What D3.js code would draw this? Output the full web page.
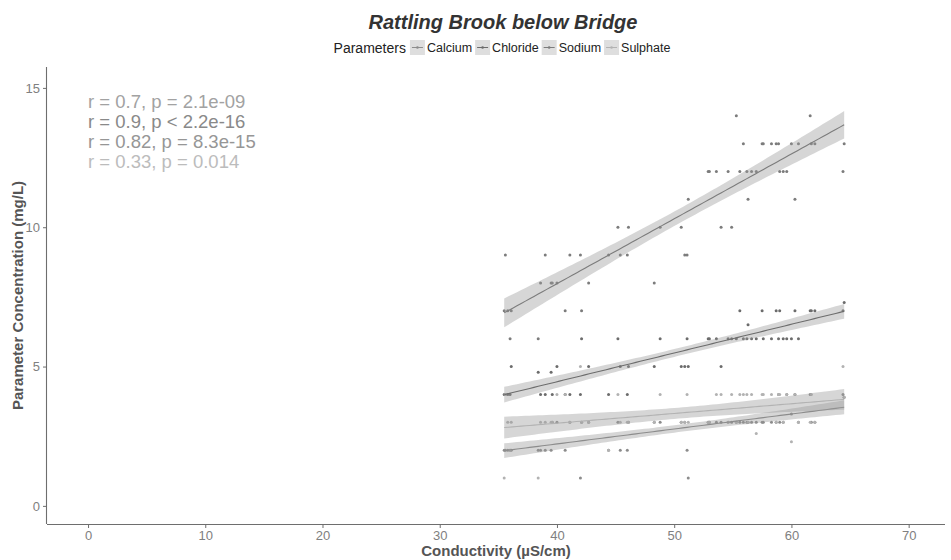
<!DOCTYPE html>
<html>
<head>
<meta charset="utf-8">
<script src="https://cdn.jsdelivr.net/npm/d3@7"></script>
<style>
  body { margin: 0; background: #fff; }
  svg { display: block; }
  text { font-family: "Liberation Sans", Arial, Helvetica, sans-serif; }
</style>
</head>
<body>
<svg id="chart" width="951" height="560"></svg>
<script>
// ---- Data: one conductivity reading per sample, one value per parameter ----
const conductivity = [35.5, 35.6, 35.8, 36.0, 36.1, 38.4, 38.6, 39.0, 39.5, 39.6,
  40.0, 40.7, 41.1, 42.0, 42.1, 42.7, 44.4, 45.2, 45.4, 46.0,
  46.1, 48.3, 48.8, 50.6, 50.9, 51.1, 51.2, 52.9, 53.0, 53.6,
  54.0, 54.6, 54.9, 55.3, 55.6, 55.9, 56.2, 56.3, 56.6, 57.0,
  57.5, 57.6, 58.3, 58.7, 58.9, 59.0, 59.3, 59.6, 60.0, 60.3,
  60.6, 61.6, 61.7, 62.0, 64.4, 64.5];

const calcium = [2, 2, 2, 2, 2, 2, 2, 2, 2, 3,
  3, 2, 3, 1, 3, 3, 2, 3, 2, 2,
  3, 3, 3, 3, 3, 2, 1, 3, 3, 3,
  3, 3, 3, 3, 3, 3, 3, 3, 3, 3,
  3, 3, 3, 3, 4, 3, 3, 4, 3.3, 4,
  3, 4, 3, 3, 4, 3.9];

const chloride = [4, 4, 4, 4, 5, 4.8, 4, 4, 4.8, 4,
  5, 4, 4, 4, 6, 5, 4, 6, 5, 4,
  5, 5, 6, 5, 5, 6, 5, 6, 6, 6,
  5, 6, 6, 6, 7, 6, 6, 6.5, 6, 6,
  7, 6, 6, 7, 6, 7, 6, 6, 6, 7,
  6, 7, 7, 7, 7, 7.3];

const sodium = [7, 9, 7, 6, 7, 6, 8, 9, 8, 8,
  8, 7, 9, 9, 7, 8, 9, 10, 9, 9,
  10, 8, 10, 10, 9, 9, 11, 12, 12, 12,
  10, 12, 10, 14, 12, 13, 12, 11, 12, 12,
  13, 13, 13, 13, 13, 12, 12, 12, 13, 11,
  13, 14, 13, 13, 12, 13];

const sulphate = [1, 4, 3, 2, 3, 1, 3, 3, 3, 3,
  4, 4, 3, 5, 3, 3, 2, 4, 3, 3,
  3, 3, 4, 3, 3, 4, 3, 3, 3, 4,
  4, 3, 4, 3, 4, 4, 4, 3, 4, 2.6,
  4, 4, 4, 3, 4, 4, 3, 4, 2.3, 4,
  3, 3, 4, 3, 5, 3.9];

const parameters = ["Calcium", "Chloride", "Sodium", "Sulphate"];
const parameterValues = [calcium, chloride, sodium, sulphate];

// Pearson correlation labels (one per parameter) and their vertical positions
const corLabels = ["r = 0.7, p = 2.1e-09", "r = 0.9, p < 2.2e-16",
  "r = 0.82, p = 8.3e-15", "r = 0.33, p = 0.014"];
const corLabelY = [14.5, 13.78, 13.06, 12.34];

const xTicks = [0, 10, 20, 30, 40, 50, 60, 70];
const yTicks = [0, 5, 10, 15];

// ---- Styling ----
const colours = ["#8c8c8c", "#6c6c6c", "#7c7c7c", "#b2b2b2"];
const labelColours = ["#a2a2a2", "#898989", "#969696", "#bcbcbc"];
const bandFill = "#999999", bandOpacity = 0.4;
const axisColour = "#6e6e6e", tickTextColour = "#808080", titleColour = "#555555";
const T975 = 2.005; // Student t quantile for a 95% interval

const svg = d3.select("#chart");
const panel = { left: 47, right: 945, top: 67, bottom: 524 };

const x = d3.scaleLinear().domain([-3.5, 73.1]).range([panel.left, panel.right]);
const y = d3.scaleLinear().domain([-0.65, 15.75]).range([panel.bottom, panel.top]);

// ---- Linear fit with confidence band ----
function linearFit(xs, ys) {
  const n = xs.length;
  const mx = d3.mean(xs), my = d3.mean(ys);
  let sxx = 0, sxy = 0;
  for (let i = 0; i < n; i++) {
    sxx += (xs[i] - mx) ** 2;
    sxy += (xs[i] - mx) * (ys[i] - my);
  }
  const b = sxy / sxx, a = my - b * mx;
  let sse = 0;
  for (let i = 0; i < n; i++) sse += (ys[i] - a - b * xs[i]) ** 2;
  const s = Math.sqrt(sse / (n - 2));
  const [x0, x1] = d3.extent(xs);
  return d3.range(81).map(k => {
    const xv = x0 + (x1 - x0) * k / 80;
    const fitv = a + b * xv;
    const se = s * Math.sqrt(1 / n + (xv - mx) ** 2 / sxx);
    return { x: xv, y: fitv, lo: fitv - T975 * se, hi: fitv + T975 * se };
  });
}

const series = parameters.map((name, i) => ({
  name,
  colour: colours[i],
  points: conductivity.map((c, j) => ({ x: c, y: parameterValues[i][j] })),
  fit: linearFit(conductivity, parameterValues[i])
}));

// ---- Axes ----
const xAxis = svg.append("g")
  .attr("transform", `translate(0,${panel.bottom})`)
  .call(d3.axisBottom(x).tickValues(xTicks).tickSize(4).tickSizeOuter(0).tickPadding(3));
const yAxis = svg.append("g")
  .attr("transform", `translate(${panel.left},0)`)
  .call(d3.axisLeft(y).tickValues(yTicks).tickSize(4).tickSizeOuter(0).tickPadding(3));

[xAxis, yAxis].forEach(g => {
  g.select(".domain").attr("stroke", axisColour).attr("stroke-width", 1.1);
  g.selectAll(".tick line").attr("stroke", axisColour);
  g.selectAll(".tick text").attr("fill", tickTextColour).attr("font-size", 13)
    .style("font-family", "'Liberation Sans', Arial, sans-serif");
});
// axis lines run along the full panel edges
xAxis.select(".domain").attr("d", `M${panel.left},0.5H${panel.right}`);
yAxis.select(".domain").attr("d", `M-0.5,${panel.bottom}V${panel.top}`);

// ---- Points ----
const pointLayer = svg.append("g");
series.forEach(s => {
  pointLayer.selectAll(null)
    .data(s.points)
    .join("circle")
    .attr("cx", d => x(d.x))
    .attr("cy", d => y(d.y))
    .attr("r", 1.5)
    .attr("fill", s.colour);
});

// ---- Regression lines with bands ----
const area = d3.area().x(d => x(d.x)).y0(d => y(d.lo)).y1(d => y(d.hi));
const line = d3.line().x(d => x(d.x)).y(d => y(d.y));
const smoothLayer = svg.append("g");
series.forEach(s => {
  smoothLayer.append("path").attr("d", area(s.fit))
    .attr("fill", bandFill).attr("fill-opacity", bandOpacity);
  smoothLayer.append("path").attr("d", line(s.fit))
    .attr("fill", "none").attr("stroke", s.colour).attr("stroke-width", 1.1);
});

// ---- Correlation labels ----
svg.append("g").selectAll("text")
  .data(corLabels)
  .join("text")
  .attr("x", x(0))
  .attr("y", (d, i) => y(corLabelY[i]))
  .attr("dy", "0.35em")
  .attr("font-size", 18.5)
  .attr("fill", (d, i) => labelColours[i])
  .text(d => d);

// ---- Titles ----
const panelMid = (panel.left + panel.right) / 2;
svg.append("text")
  .attr("x", 503).attr("y", 29)
  .attr("text-anchor", "middle")
  .attr("font-size", 20).attr("font-weight", "bold").attr("font-style", "italic")
  .attr("fill", "#333")
  .text("Rattling Brook below Bridge");

svg.append("text")
  .attr("x", panelMid).attr("y", 556)
  .attr("text-anchor", "middle")
  .attr("font-size", 15).attr("font-weight", "bold")
  .attr("fill", titleColour)
  .text("Conductivity (µS/cm)");

svg.append("text")
  .attr("transform", `translate(23,${(panel.top + panel.bottom) / 2}) rotate(-90)`)
  .attr("text-anchor", "middle")
  .attr("font-size", 15).attr("font-weight", "bold")
  .attr("fill", titleColour)
  .text("Parameter Concentration (mg/L)");

// ---- Legend ----
const legend = svg.append("g");
const keySize = 15, legendBaseline = 53, keyTop = 40;
const legendTitle = legend.append("text")
  .attr("x", 0).attr("y", legendBaseline)
  .attr("font-size", 14).attr("fill", "#222")
  .text("Parameters");
let cursor = legendTitle.node().getComputedTextLength() + 4;
series.forEach(s => {
  const kx = cursor;
  legend.append("rect")
    .attr("x", kx).attr("y", keyTop).attr("width", keySize).attr("height", keySize)
    .attr("fill", bandFill).attr("fill-opacity", 0.32);
  legend.append("line")
    .attr("x1", kx + 2).attr("x2", kx + keySize - 2)
    .attr("y1", keyTop + keySize / 2).attr("y2", keyTop + keySize / 2)
    .attr("stroke", s.colour).attr("stroke-width", 1);
  legend.append("circle")
    .attr("cx", kx + keySize / 2).attr("cy", keyTop + keySize / 2).attr("r", 1.3)
    .attr("fill", s.colour);
  const label = legend.append("text")
    .attr("x", kx + keySize + 2).attr("y", legendBaseline - 1)
    .attr("font-size", 12.5).attr("fill", "#222")
    .text(s.name);
  cursor = kx + keySize + 2 + label.node().getComputedTextLength() + 3;
});
const legendWidth = cursor - 3;
legend.attr("transform", `translate(${502 - legendWidth / 2},0)`);
</script>
</body>
</html>
